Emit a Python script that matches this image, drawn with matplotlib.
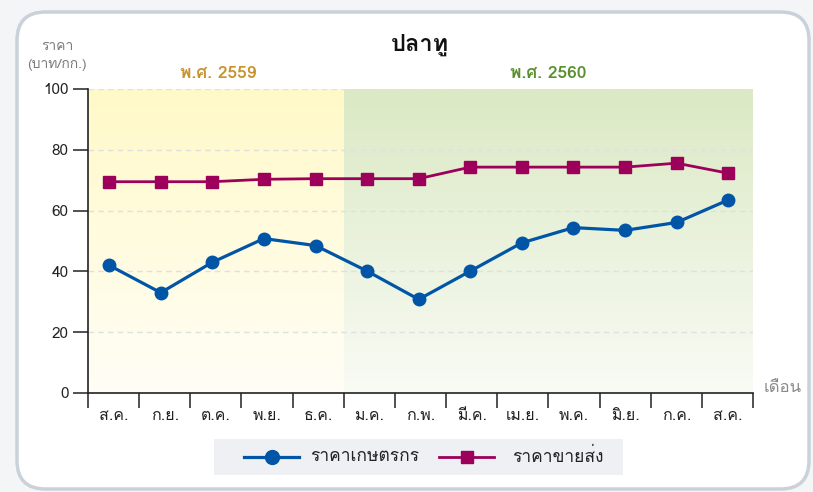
import numpy as np
import matplotlib
matplotlib.use("Agg")
import matplotlib.pyplot as plt
from matplotlib import font_manager
from matplotlib.ft2font import FT2Font
from matplotlib.patches import FancyBboxPatch, Rectangle
from matplotlib.lines import Line2D

# ---- data ----
months = ["ส.ค.", "ก.ย.", "ต.ค.", "พ.ย.", "ธ.ค.", "ม.ค.", "ก.พ.", "มี.ค.",
          "เม.ย.", "พ.ค.", "มิ.ย.", "ก.ค.", "ส.ค."]
farm_price = [42, 33, 43, 50.8, 48.5, 40.1, 30.8, 40.1, 49.4, 54.4, 53.5, 56.1, 63.5]
wholesale_price = [69.5, 69.5, 69.5, 70.3, 70.5, 70.5, 70.5, 74.3, 74.3, 74.3, 74.3, 75.6, 72.3]
title = "ปลาทู"
series_names = ["ราคาเกษตรกร", "ราคาขายส่ง"]
year_labels = ["พ.ศ. 2559", "พ.ศ. 2560"]
y_label = "ราคา\n(บาท/กก.)"
x_label = "เดือน"
y_ticks = [0, 20, 40, 60, 80, 100]

# ---- font with Thai glyphs ----
thai_font = None
for f in font_manager.fontManager.ttflist:
    try:
        cm = FT2Font(f.fname).get_charmap()
        if 0x0E01 in cm and 0x0E32 in cm:
            thai_font = f.name
            break
    except Exception:
        pass
fams = ([thai_font] if thai_font else []) + ["DejaVu Sans"]
plt.rcParams["font.family"] = fams

W, H = 813, 492
fig = plt.figure(figsize=(W / 100, H / 100), dpi=100)
fig.patch.set_facecolor("#f4f5f7")

# panel
panel = FancyBboxPatch((17 / W, 3 / H), 792 / W, 477 / H,
                       boxstyle="round,pad=0,rounding_size=0.035",
                       transform=fig.transFigure, facecolor="white",
                       edgecolor="#c9d1da", linewidth=2.5, zorder=-5,
                       mutation_aspect=W / H)
fig.patches.append(panel)

ax = fig.add_axes([88 / W, 1 - 393 / H, 665 / W, 304 / H])
ax.set_zorder(1)
ax.set_facecolor("none")
x = np.arange(len(months))
xl, xr = -0.41, 12.48
split = 4.56

def grad(c_top, c_bot):
    t = np.linspace(0, 1, 256)[:, None]
    top = np.array(c_top) / 255
    bot = np.array(c_bot) / 255
    return top[None, None, :] * (1 - t[:, :, None]) + bot[None, None, :] * t[:, :, None]

ax.imshow(grad((255, 249, 200), (255, 254, 246)), extent=[xl, split, 0, 100],
          aspect="auto", zorder=0, origin="upper")
ax.imshow(grad((219, 233, 196), (249, 251, 245)), extent=[split, xr, 0, 100],
          aspect="auto", zorder=0, origin="upper")
ax.set_xlim(xl, xr)
ax.set_ylim(0, 100)

for yv in y_ticks[1:]:
    ax.axhline(yv, color="#e0e0e0", lw=1, ls=(0, (4, 3)), zorder=1)

blue = "#0055a6"
mag = "#9c005a"
ax.plot(x, farm_price, color=blue, lw=2.3, marker="o", ms=9, zorder=3)
ax.plot(x, wholesale_price, color=mag, lw=2.0, marker="s", ms=8.5, zorder=3)

for s in ["top", "right"]:
    ax.spines[s].set_visible(False)
for s in ["left", "bottom"]:
    ax.spines[s].set_color("#222222")
    ax.spines[s].set_linewidth(1.2)

ax.set_yticks(y_ticks)
ax.tick_params(axis="y", length=11, width=1.2, color="#333333", labelsize=11, pad=3,
               labelcolor="#222222")
n = len(months)
step = (xr - xl) / n
bounds = [xl + k * step for k in range(n + 1)]
ax.set_xticks(bounds)
ax.set_xticklabels([])
ax.tick_params(axis="x", length=11, width=1.2, color="#333333")
for i, m in enumerate(months):
    ax.text(xl + (i + 0.5) * step, -5.0, m, ha="center", va="top", fontsize=11.5,
            color="#222222", transform=ax.transData, clip_on=False)

fig.text(420 / W, 1 - 45 / H, title, ha="center", va="center", fontsize=17,
         fontweight="bold", color="#111111")
fig.text(218 / W, 1 - 73 / H, year_labels[0], ha="center", va="center", fontsize=12.5,
         fontweight="bold", color="#c8922c")
fig.text(548 / W, 1 - 73 / H, year_labels[1], ha="center", va="center", fontsize=12.5,
         fontweight="bold", color="#5a8f2f")
fig.text(57 / W, 1 - 56 / H, y_label, ha="center", va="center", fontsize=10,
         color="#7a7a7a", linespacing=1.6)
fig.text(783 / W, 1 - 388 / H, x_label, ha="center", va="center", fontsize=12,
         color="#8a8a8a")

# legend box
fig.patches.append(Rectangle((214 / W, 1 - 475 / H), 409 / W, 36 / H,
                             transform=fig.transFigure, facecolor="#eef0f3",
                             edgecolor="none", zorder=1))
ly = 1 - 457 / H
fig.lines.append(Line2D([244 / W, 299 / W], [ly, ly], color=blue, lw=2.3,
                        transform=fig.transFigure, zorder=2))
fig.lines.append(Line2D([271.5 / W], [ly], color=blue, marker="o", ms=10,
                        transform=fig.transFigure, zorder=3))
fig.text(310 / W, ly, series_names[0], ha="left", va="center", fontsize=12.5,
         color="#222222", zorder=3)
fig.lines.append(Line2D([439 / W, 494 / W], [ly, ly], color=mag, lw=2.0,
                        transform=fig.transFigure, zorder=2))
fig.lines.append(Line2D([466.5 / W], [ly], color=mag, marker="s", ms=9,
                        transform=fig.transFigure, zorder=3))
fig.text(512 / W, ly, series_names[1], ha="left", va="center", fontsize=12.5,
         color="#222222", zorder=3)

fig.savefig("out.png", dpi=100, facecolor=fig.get_facecolor())
